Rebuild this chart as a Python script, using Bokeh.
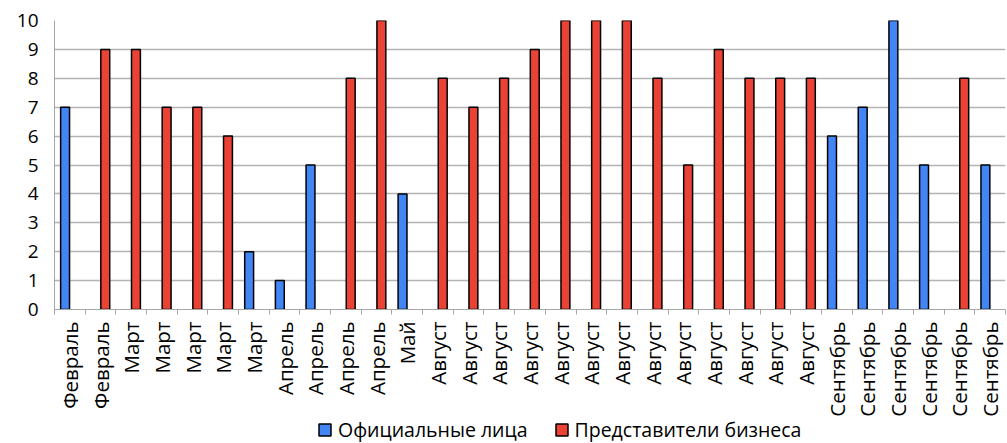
import math
from bokeh.plotting import figure
from bokeh.layouts import column
from bokeh.models import ColumnDataSource, FixedTicker, Legend, LegendItem, Range1d
from bokeh.embed import file_html
from bokeh.resources import INLINE

months = ["Февраль", "Февраль", "Март", "Март", "Март", "Март", "Март",
          "Апрель", "Апрель", "Апрель", "Апрель", "Май",
          "Август", "Август", "Август", "Август", "Август", "Август", "Август",
          "Август", "Август", "Август", "Август", "Август", "Август",
          "Сентябрь", "Сентябрь", "Сентябрь", "Сентябрь", "Сентябрь", "Сентябрь"]

official = [7, None, None, None, None, None, 2, 1, 5, None, None, 4,
            None, None, None, None, None, None, None, None, None, None, None, None, None,
            6, 7, 10, 5, None, 5]

business = [None, 9, 9, 7, 7, 6, None, None, None, 8, 10, None,
            8, 7, 8, 9, 10, 10, 10, 8, 5, 9, 8, 8, 8,
            None, None, None, None, 8, None]

series_names = ["Официальные лица", "Представители бизнеса"]
colors = ["#4285f4", "#ea4335"]
y_ticks = list(range(0, 11))

FONT = "Open Sans"
n = len(months)
centers = [i + 0.5 for i in range(n)]

p = figure(frame_width=951, frame_height=289, output_backend="svg", toolbar_location=None,
           x_range=Range1d(0, n), y_range=Range1d(0, 10),
           min_border_left=54, min_border_right=2, min_border_top=20, min_border_bottom=105)
p.outline_line_color = None
p.background_fill_color = "white"

for vals, off, col in [(official, -0.155, colors[0]), (business, 0.155, colors[1])]:
    xs = [centers[i] + off for i, v in enumerate(vals) if v is not None]
    tops = [v for v in vals if v is not None]
    src = ColumnDataSource(dict(x=xs, top=tops))
    p.vbar(x="x", top="top", bottom=0, width=0.29, source=src,
           fill_color=col, line_color="black", line_width=1.5)

# x axis
xa = p.xaxis[0]
xa.ticker = FixedTicker(ticks=centers, minor_ticks=list(range(n + 1)))
xa.major_label_overrides = {c: m for c, m in zip(centers, months)}
xa.major_label_orientation = math.pi / 2
xa.major_tick_line_color = None
xa.minor_tick_line_color = "#a6a6a6"
xa.minor_tick_out = 5
xa.minor_tick_in = 0
xa.axis_line_color = "#a6a6a6"
xa.major_label_text_font = FONT
xa.major_label_text_font_size = "20.5px"
xa.major_label_text_color = "black"
xa.major_label_standoff = 6

# y axis
ya = p.yaxis[0]
ya.ticker = FixedTicker(ticks=y_ticks)
ya.major_tick_line_color = None
ya.minor_tick_line_color = None
ya.axis_line_color = "#a6a6a6"
ya.major_label_text_font = FONT
ya.major_label_text_font_size = "19px"
ya.major_label_text_color = "black"
ya.major_label_standoff = 10

p.xgrid.grid_line_color = None
p.ygrid.ticker = FixedTicker(ticks=y_ticks)
p.ygrid.grid_line_color = "#b3b3b3"
p.ygrid.grid_line_width = 1.5

# legend strip below the chart (no axes, frame fills the strip)
lg = figure(width=1007, height=26, output_backend="svg", toolbar_location=None,
            x_range=Range1d(0, 1), y_range=Range1d(0, 1),
            x_axis_location=None, y_axis_location=None,
            min_border_left=0, min_border_right=0, min_border_top=0, min_border_bottom=0)
lg.grid.visible = False
lg.outline_line_color = None
legend_renderers = []
for col in colors:
    # swatch renderers kept outside the visible range; only their legend glyph shows
    r = lg.vbar(x=[-5], top=[-4], bottom=[-5], width=0.1,
                fill_color=col, line_color="black", line_width=1.5)
    legend_renderers.append(r)

legend = Legend(items=[LegendItem(label=series_names[0], renderers=[legend_renderers[0]]),
                       LegendItem(label=series_names[1], renderers=[legend_renderers[1]])],
                orientation="horizontal", location=(263, 2))
legend.border_line_color = None
legend.background_fill_alpha = 0
legend.label_text_font = FONT
legend.label_text_font_size = "19.5px"
legend.label_text_color = "black"
legend.glyph_width = 15
legend.glyph_height = 15
legend.label_standoff = 6
legend.spacing = 26
legend.padding = 0
legend.margin = 0
lg.add_layout(legend, "center")

layout = column(p, lg, spacing=0)
open("out.html", "w").write(file_html(layout, INLINE))
